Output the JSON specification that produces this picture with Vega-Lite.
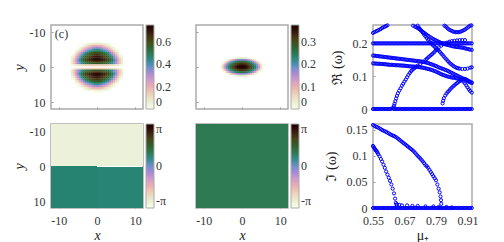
{"$schema":"https://vega.github.io/schema/vega-lite/v6.json","padding":{"left":11,"top":20,"right":0,"bottom":0},"background":"white",
"config":{"view":{"stroke":"#aaaaaa","strokeWidth":1.5},"font":"Liberation Serif",
"axis":{"grid":false,"labelFont":"Liberation Serif","titleFont":"Liberation Serif","labelFontSize":12,"titleFontSize":14,"labelColor":"#333333","titleColor":"#222222","domain":false,"tickColor":"#999999","tickSize":-2,"labelPadding":8,"titleFontWeight":"normal","labelFlush":false,"labelOverlap":false},
"axisX":{"labelPadding":9,"titlePadding":2},
"legend":{"labelFont":"Liberation Serif","labelFontSize":12,"labelColor":"#333333","gradientLength":84,"gradientThickness":8,"offset":3,"padding":0,"labelOffset":3,"gradientStrokeColor":"#aaaaaa","gradientStrokeWidth":1,"labelOverlap":false}},
"datasets":{
"a":[
{"x":-1.5,"y":-7,"v":0.005},{"x":-1,"y":-7,"v":0.01},{"x":-0.5,"y":-7,"v":0.015},{"x":0,"y":-7,"v":0.02},{"x":0.5,"y":-7,"v":0.015},{"x":1,"y":-7,"v":0.01},{"x":1.5,"y":-7,"v":0.005},
{"x":-3.5,"y":-6.5,"v":0.015},{"x":-3,"y":-6.5,"v":0.03},{"x":-2.5,"y":-6.5,"v":0.05},{"x":-2,"y":-6.5,"v":0.07},{"x":-1.5,"y":-6.5,"v":0.085},{"x":-1,"y":-6.5,"v":0.1},{"x":-0.5,"y":-6.5,"v":0.11},{"x":0,"y":-6.5,"v":0.115},{"x":0.5,"y":-6.5,"v":0.11},{"x":1,"y":-6.5,"v":0.1},{"x":1.5,"y":-6.5,"v":0.085},{"x":2,"y":-6.5,"v":0.07},{"x":2.5,"y":-6.5,"v":0.05},{"x":3,"y":-6.5,"v":0.03},{"x":3.5,"y":-6.5,"v":0.015},
{"x":-3.5,"y":-6,"v":0.03},{"x":-3,"y":-6,"v":0.06},{"x":-2.5,"y":-6,"v":0.1},{"x":-2,"y":-6,"v":0.14},{"x":-1.5,"y":-6,"v":0.17},{"x":-1,"y":-6,"v":0.195},{"x":-0.5,"y":-6,"v":0.2},{"x":0,"y":-6,"v":0.21},{"x":0.5,"y":-6,"v":0.2},{"x":1,"y":-6,"v":0.195},{"x":1.5,"y":-6,"v":0.17},{"x":2,"y":-6,"v":0.14},{"x":2.5,"y":-6,"v":0.1},{"x":3,"y":-6,"v":0.06},{"x":3.5,"y":-6,"v":0.03},
{"x":-5,"y":-5.5,"v":0.005},{"x":-4.5,"y":-5.5,"v":0.03},{"x":-4,"y":-5.5,"v":0.06},{"x":-3.5,"y":-5.5,"v":0.11},{"x":-3,"y":-5.5,"v":0.155},{"x":-2.5,"y":-5.5,"v":0.2},{"x":-2,"y":-5.5,"v":0.24},{"x":-1.5,"y":-5.5,"v":0.27},{"x":-1,"y":-5.5,"v":0.3},{"x":-0.5,"y":-5.5,"v":0.31},{"x":0,"y":-5.5,"v":0.325},{"x":0.5,"y":-5.5,"v":0.31},{"x":1,"y":-5.5,"v":0.3},{"x":1.5,"y":-5.5,"v":0.27},{"x":2,"y":-5.5,"v":0.24},{"x":2.5,"y":-5.5,"v":0.2},{"x":3,"y":-5.5,"v":0.155},{"x":3.5,"y":-5.5,"v":0.11},{"x":4,"y":-5.5,"v":0.06},{"x":4.5,"y":-5.5,"v":0.03},{"x":5,"y":-5.5,"v":0.005},
{"x":-5.5,"y":-5,"v":0.005},{"x":-5,"y":-5,"v":0.01},{"x":-4.5,"y":-5,"v":0.065},{"x":-4,"y":-5,"v":0.12},{"x":-3.5,"y":-5,"v":0.185},{"x":-3,"y":-5,"v":0.25},{"x":-2.5,"y":-5,"v":0.295},{"x":-2,"y":-5,"v":0.34},{"x":-1.5,"y":-5,"v":0.375},{"x":-1,"y":-5,"v":0.41},{"x":-0.5,"y":-5,"v":0.425},{"x":0,"y":-5,"v":0.44},{"x":0.5,"y":-5,"v":0.425},{"x":1,"y":-5,"v":0.41},{"x":1.5,"y":-5,"v":0.375},{"x":2,"y":-5,"v":0.34},{"x":2.5,"y":-5,"v":0.295},{"x":3,"y":-5,"v":0.25},{"x":3.5,"y":-5,"v":0.185},{"x":4,"y":-5,"v":0.12},{"x":4.5,"y":-5,"v":0.065},{"x":5,"y":-5,"v":0.01},{"x":5.5,"y":-5,"v":0.005},
{"x":-5.5,"y":-4.5,"v":0.03},{"x":-5,"y":-4.5,"v":0.065},{"x":-4.5,"y":-4.5,"v":0.13},{"x":-4,"y":-4.5,"v":0.2},{"x":-3.5,"y":-4.5,"v":0.27},{"x":-3,"y":-4.5,"v":0.345},{"x":-2.5,"y":-4.5,"v":0.385},{"x":-2,"y":-4.5,"v":0.425},{"x":-1.5,"y":-4.5,"v":0.46},{"x":-1,"y":-4.5,"v":0.49},{"x":-0.5,"y":-4.5,"v":0.5},{"x":0,"y":-4.5,"v":0.51},{"x":0.5,"y":-4.5,"v":0.5},{"x":1,"y":-4.5,"v":0.49},{"x":1.5,"y":-4.5,"v":0.46},{"x":2,"y":-4.5,"v":0.425},{"x":2.5,"y":-4.5,"v":0.385},{"x":3,"y":-4.5,"v":0.345},{"x":3.5,"y":-4.5,"v":0.27},{"x":4,"y":-4.5,"v":0.2},{"x":4.5,"y":-4.5,"v":0.13},{"x":5,"y":-4.5,"v":0.065},{"x":5.5,"y":-4.5,"v":0.03},
{"x":-5.5,"y":-4,"v":0.06},{"x":-5,"y":-4,"v":0.12},{"x":-4.5,"y":-4,"v":0.2},{"x":-4,"y":-4,"v":0.28},{"x":-3.5,"y":-4,"v":0.36},{"x":-3,"y":-4,"v":0.44},{"x":-2.5,"y":-4,"v":0.475},{"x":-2,"y":-4,"v":0.51},{"x":-1.5,"y":-4,"v":0.54},{"x":-1,"y":-4,"v":0.57},{"x":-0.5,"y":-4,"v":0.58},{"x":0,"y":-4,"v":0.585},{"x":0.5,"y":-4,"v":0.58},{"x":1,"y":-4,"v":0.57},{"x":1.5,"y":-4,"v":0.54},{"x":2,"y":-4,"v":0.51},{"x":2.5,"y":-4,"v":0.475},{"x":3,"y":-4,"v":0.44},{"x":3.5,"y":-4,"v":0.36},{"x":4,"y":-4,"v":0.28},{"x":4.5,"y":-4,"v":0.2},{"x":5,"y":-4,"v":0.12},{"x":5.5,"y":-4,"v":0.06},
{"x":-6.5,"y":-3.5,"v":0.015},{"x":-6,"y":-3.5,"v":0.03},{"x":-5.5,"y":-3.5,"v":0.11},{"x":-5,"y":-3.5,"v":0.185},{"x":-4.5,"y":-3.5,"v":0.27},{"x":-4,"y":-3.5,"v":0.36},{"x":-3.5,"y":-3.5,"v":0.43},{"x":-3,"y":-3.5,"v":0.495},{"x":-2.5,"y":-3.5,"v":0.53},{"x":-2,"y":-3.5,"v":0.565},{"x":-1.5,"y":-3.5,"v":0.59},{"x":-1,"y":-3.5,"v":0.62},{"x":-0.5,"y":-3.5,"v":0.63},{"x":0,"y":-3.5,"v":0.64},{"x":0.5,"y":-3.5,"v":0.63},{"x":1,"y":-3.5,"v":0.62},{"x":1.5,"y":-3.5,"v":0.59},{"x":2,"y":-3.5,"v":0.565},{"x":2.5,"y":-3.5,"v":0.53},{"x":3,"y":-3.5,"v":0.495},{"x":3.5,"y":-3.5,"v":0.43},{"x":4,"y":-3.5,"v":0.36},{"x":4.5,"y":-3.5,"v":0.27},{"x":5,"y":-3.5,"v":0.185},{"x":5.5,"y":-3.5,"v":0.11},{"x":6,"y":-3.5,"v":0.03},{"x":6.5,"y":-3.5,"v":0.015},
{"x":-6.5,"y":-3,"v":0.03},{"x":-6,"y":-3,"v":0.06},{"x":-5.5,"y":-3,"v":0.155},{"x":-5,"y":-3,"v":0.25},{"x":-4.5,"y":-3,"v":0.345},{"x":-4,"y":-3,"v":0.44},{"x":-3.5,"y":-3,"v":0.495},{"x":-3,"y":-3,"v":0.55},{"x":-2.5,"y":-3,"v":0.585},{"x":-2,"y":-3,"v":0.62},{"x":-1.5,"y":-3,"v":0.645},{"x":-1,"y":-3,"v":0.67},{"x":-0.5,"y":-3,"v":0.68},{"x":0,"y":-3,"v":0.69},{"x":0.5,"y":-3,"v":0.68},{"x":1,"y":-3,"v":0.67},{"x":1.5,"y":-3,"v":0.645},{"x":2,"y":-3,"v":0.62},{"x":2.5,"y":-3,"v":0.585},{"x":3,"y":-3,"v":0.55},{"x":3.5,"y":-3,"v":0.495},{"x":4,"y":-3,"v":0.44},{"x":4.5,"y":-3,"v":0.345},{"x":5,"y":-3,"v":0.25},{"x":5.5,"y":-3,"v":0.155},{"x":6,"y":-3,"v":0.06},{"x":6.5,"y":-3,"v":0.03},
{"x":-6.5,"y":-2.5,"v":0.05},{"x":-6,"y":-2.5,"v":0.1},{"x":-5.5,"y":-2.5,"v":0.195},{"x":-5,"y":-2.5,"v":0.29},{"x":-4.5,"y":-2.5,"v":0.38},{"x":-4,"y":-2.5,"v":0.47},{"x":-3.5,"y":-2.5,"v":0.525},{"x":-3,"y":-2.5,"v":0.58},{"x":-2.5,"y":-2.5,"v":0.61},{"x":-2,"y":-2.5,"v":0.645},{"x":-1.5,"y":-2.5,"v":0.665},{"x":-1,"y":-2.5,"v":0.685},{"x":-0.5,"y":-2.5,"v":0.695},{"x":0,"y":-2.5,"v":0.705},{"x":0.5,"y":-2.5,"v":0.695},{"x":1,"y":-2.5,"v":0.685},{"x":1.5,"y":-2.5,"v":0.665},{"x":2,"y":-2.5,"v":0.645},{"x":2.5,"y":-2.5,"v":0.61},{"x":3,"y":-2.5,"v":0.58},{"x":3.5,"y":-2.5,"v":0.525},{"x":4,"y":-2.5,"v":0.47},{"x":4.5,"y":-2.5,"v":0.38},{"x":5,"y":-2.5,"v":0.29},{"x":5.5,"y":-2.5,"v":0.195},{"x":6,"y":-2.5,"v":0.1},{"x":6.5,"y":-2.5,"v":0.05},
{"x":-6.5,"y":-2,"v":0.07},{"x":-6,"y":-2,"v":0.14},{"x":-5.5,"y":-2,"v":0.235},{"x":-5,"y":-2,"v":0.33},{"x":-4.5,"y":-2,"v":0.415},{"x":-4,"y":-2,"v":0.5},{"x":-3.5,"y":-2,"v":0.555},{"x":-3,"y":-2,"v":0.61},{"x":-2.5,"y":-2,"v":0.64},{"x":-2,"y":-2,"v":0.67},{"x":-1.5,"y":-2,"v":0.685},{"x":-1,"y":-2,"v":0.7},{"x":-0.5,"y":-2,"v":0.71},{"x":0,"y":-2,"v":0.72},{"x":0.5,"y":-2,"v":0.71},{"x":1,"y":-2,"v":0.7},{"x":1.5,"y":-2,"v":0.685},{"x":2,"y":-2,"v":0.67},{"x":2.5,"y":-2,"v":0.64},{"x":3,"y":-2,"v":0.61},{"x":3.5,"y":-2,"v":0.555},{"x":4,"y":-2,"v":0.5},{"x":4.5,"y":-2,"v":0.415},{"x":5,"y":-2,"v":0.33},{"x":5.5,"y":-2,"v":0.235},{"x":6,"y":-2,"v":0.14},{"x":6.5,"y":-2,"v":0.07},
{"x":-7,"y":-1.5,"v":0.005},{"x":-6.5,"y":-1.5,"v":0.075},{"x":-6,"y":-1.5,"v":0.145},{"x":-5.5,"y":-1.5,"v":0.23},{"x":-5,"y":-1.5,"v":0.32},{"x":-4.5,"y":-1.5,"v":0.39},{"x":-4,"y":-1.5,"v":0.465},{"x":-3.5,"y":-1.5,"v":0.51},{"x":-3,"y":-1.5,"v":0.56},{"x":-2.5,"y":-1.5,"v":0.58},{"x":-2,"y":-1.5,"v":0.605},{"x":-1.5,"y":-1.5,"v":0.62},{"x":-1,"y":-1.5,"v":0.635},{"x":-0.5,"y":-1.5,"v":0.64},{"x":0,"y":-1.5,"v":0.645},{"x":0.5,"y":-1.5,"v":0.64},{"x":1,"y":-1.5,"v":0.635},{"x":1.5,"y":-1.5,"v":0.62},{"x":2,"y":-1.5,"v":0.605},{"x":2.5,"y":-1.5,"v":0.58},{"x":3,"y":-1.5,"v":0.56},{"x":3.5,"y":-1.5,"v":0.51},{"x":4,"y":-1.5,"v":0.465},{"x":4.5,"y":-1.5,"v":0.39},{"x":5,"y":-1.5,"v":0.32},{"x":5.5,"y":-1.5,"v":0.23},{"x":6,"y":-1.5,"v":0.145},{"x":6.5,"y":-1.5,"v":0.075},{"x":7,"y":-1.5,"v":0.005},
{"x":-7,"y":-1,"v":0.01},{"x":-6.5,"y":-1,"v":0.08},{"x":-6,"y":-1,"v":0.15},{"x":-5.5,"y":-1,"v":0.23},{"x":-5,"y":-1,"v":0.31},{"x":-4.5,"y":-1,"v":0.37},{"x":-4,"y":-1,"v":0.43},{"x":-3.5,"y":-1,"v":0.47},{"x":-3,"y":-1,"v":0.51},{"x":-2.5,"y":-1,"v":0.525},{"x":-2,"y":-1,"v":0.54},{"x":-1.5,"y":-1,"v":0.555},{"x":-1,"y":-1,"v":0.57},{"x":-0.5,"y":-1,"v":0.57},{"x":0,"y":-1,"v":0.57},{"x":0.5,"y":-1,"v":0.57},{"x":1,"y":-1,"v":0.57},{"x":1.5,"y":-1,"v":0.555},{"x":2,"y":-1,"v":0.54},{"x":2.5,"y":-1,"v":0.525},{"x":3,"y":-1,"v":0.51},{"x":3.5,"y":-1,"v":0.47},{"x":4,"y":-1,"v":0.43},{"x":4.5,"y":-1,"v":0.37},{"x":5,"y":-1,"v":0.31},{"x":5.5,"y":-1,"v":0.23},{"x":6,"y":-1,"v":0.15},{"x":6.5,"y":-1,"v":0.08},{"x":7,"y":-1,"v":0.01},
{"x":-6.5,"y":-0.5,"v":0.02},{"x":-6,"y":-0.5,"v":0.04},{"x":-5.5,"y":-0.5,"v":0.06},{"x":-5,"y":-0.5,"v":0.08},{"x":-4.5,"y":-0.5,"v":0.095},{"x":-4,"y":-0.5,"v":0.11},{"x":-3.5,"y":-0.5,"v":0.12},{"x":-3,"y":-0.5,"v":0.13},{"x":-2.5,"y":-0.5,"v":0.13},{"x":-2,"y":-0.5,"v":0.135},{"x":-1.5,"y":-0.5,"v":0.14},{"x":-1,"y":-0.5,"v":0.14},{"x":-0.5,"y":-0.5,"v":0.14},{"x":0,"y":-0.5,"v":0.14},{"x":0.5,"y":-0.5,"v":0.14},{"x":1,"y":-0.5,"v":0.14},{"x":1.5,"y":-0.5,"v":0.14},{"x":2,"y":-0.5,"v":0.135},{"x":2.5,"y":-0.5,"v":0.13},{"x":3,"y":-0.5,"v":0.13},{"x":3.5,"y":-0.5,"v":0.12},{"x":4,"y":-0.5,"v":0.11},{"x":4.5,"y":-0.5,"v":0.095},{"x":5,"y":-0.5,"v":0.08},{"x":5.5,"y":-0.5,"v":0.06},{"x":6,"y":-0.5,"v":0.04},{"x":6.5,"y":-0.5,"v":0.02},
{"x":-6.5,"y":0.5,"v":0.02},{"x":-6,"y":0.5,"v":0.04},{"x":-5.5,"y":0.5,"v":0.06},{"x":-5,"y":0.5,"v":0.08},{"x":-4.5,"y":0.5,"v":0.095},{"x":-4,"y":0.5,"v":0.11},{"x":-3.5,"y":0.5,"v":0.12},{"x":-3,"y":0.5,"v":0.13},{"x":-2.5,"y":0.5,"v":0.13},{"x":-2,"y":0.5,"v":0.135},{"x":-1.5,"y":0.5,"v":0.14},{"x":-1,"y":0.5,"v":0.14},{"x":-0.5,"y":0.5,"v":0.14},{"x":0,"y":0.5,"v":0.14},{"x":0.5,"y":0.5,"v":0.14},{"x":1,"y":0.5,"v":0.14},{"x":1.5,"y":0.5,"v":0.14},{"x":2,"y":0.5,"v":0.135},{"x":2.5,"y":0.5,"v":0.13},{"x":3,"y":0.5,"v":0.13},{"x":3.5,"y":0.5,"v":0.12},{"x":4,"y":0.5,"v":0.11},{"x":4.5,"y":0.5,"v":0.095},{"x":5,"y":0.5,"v":0.08},{"x":5.5,"y":0.5,"v":0.06},{"x":6,"y":0.5,"v":0.04},{"x":6.5,"y":0.5,"v":0.02},
{"x":-7,"y":1,"v":0.01},{"x":-6.5,"y":1,"v":0.08},{"x":-6,"y":1,"v":0.15},{"x":-5.5,"y":1,"v":0.23},{"x":-5,"y":1,"v":0.31},{"x":-4.5,"y":1,"v":0.37},{"x":-4,"y":1,"v":0.43},{"x":-3.5,"y":1,"v":0.47},{"x":-3,"y":1,"v":0.51},{"x":-2.5,"y":1,"v":0.525},{"x":-2,"y":1,"v":0.54},{"x":-1.5,"y":1,"v":0.555},{"x":-1,"y":1,"v":0.57},{"x":-0.5,"y":1,"v":0.57},{"x":0,"y":1,"v":0.57},{"x":0.5,"y":1,"v":0.57},{"x":1,"y":1,"v":0.57},{"x":1.5,"y":1,"v":0.555},{"x":2,"y":1,"v":0.54},{"x":2.5,"y":1,"v":0.525},{"x":3,"y":1,"v":0.51},{"x":3.5,"y":1,"v":0.47},{"x":4,"y":1,"v":0.43},{"x":4.5,"y":1,"v":0.37},{"x":5,"y":1,"v":0.31},{"x":5.5,"y":1,"v":0.23},{"x":6,"y":1,"v":0.15},{"x":6.5,"y":1,"v":0.08},{"x":7,"y":1,"v":0.01},
{"x":-7,"y":1.5,"v":0.005},{"x":-6.5,"y":1.5,"v":0.075},{"x":-6,"y":1.5,"v":0.145},{"x":-5.5,"y":1.5,"v":0.23},{"x":-5,"y":1.5,"v":0.32},{"x":-4.5,"y":1.5,"v":0.39},{"x":-4,"y":1.5,"v":0.465},{"x":-3.5,"y":1.5,"v":0.51},{"x":-3,"y":1.5,"v":0.56},{"x":-2.5,"y":1.5,"v":0.58},{"x":-2,"y":1.5,"v":0.605},{"x":-1.5,"y":1.5,"v":0.62},{"x":-1,"y":1.5,"v":0.635},{"x":-0.5,"y":1.5,"v":0.64},{"x":0,"y":1.5,"v":0.645},{"x":0.5,"y":1.5,"v":0.64},{"x":1,"y":1.5,"v":0.635},{"x":1.5,"y":1.5,"v":0.62},{"x":2,"y":1.5,"v":0.605},{"x":2.5,"y":1.5,"v":0.58},{"x":3,"y":1.5,"v":0.56},{"x":3.5,"y":1.5,"v":0.51},{"x":4,"y":1.5,"v":0.465},{"x":4.5,"y":1.5,"v":0.39},{"x":5,"y":1.5,"v":0.32},{"x":5.5,"y":1.5,"v":0.23},{"x":6,"y":1.5,"v":0.145},{"x":6.5,"y":1.5,"v":0.075},{"x":7,"y":1.5,"v":0.005},
{"x":-6.5,"y":2,"v":0.07},{"x":-6,"y":2,"v":0.14},{"x":-5.5,"y":2,"v":0.235},{"x":-5,"y":2,"v":0.33},{"x":-4.5,"y":2,"v":0.415},{"x":-4,"y":2,"v":0.5},{"x":-3.5,"y":2,"v":0.555},{"x":-3,"y":2,"v":0.61},{"x":-2.5,"y":2,"v":0.64},{"x":-2,"y":2,"v":0.67},{"x":-1.5,"y":2,"v":0.685},{"x":-1,"y":2,"v":0.7},{"x":-0.5,"y":2,"v":0.71},{"x":0,"y":2,"v":0.72},{"x":0.5,"y":2,"v":0.71},{"x":1,"y":2,"v":0.7},{"x":1.5,"y":2,"v":0.685},{"x":2,"y":2,"v":0.67},{"x":2.5,"y":2,"v":0.64},{"x":3,"y":2,"v":0.61},{"x":3.5,"y":2,"v":0.555},{"x":4,"y":2,"v":0.5},{"x":4.5,"y":2,"v":0.415},{"x":5,"y":2,"v":0.33},{"x":5.5,"y":2,"v":0.235},{"x":6,"y":2,"v":0.14},{"x":6.5,"y":2,"v":0.07},
{"x":-6.5,"y":2.5,"v":0.05},{"x":-6,"y":2.5,"v":0.1},{"x":-5.5,"y":2.5,"v":0.195},{"x":-5,"y":2.5,"v":0.29},{"x":-4.5,"y":2.5,"v":0.38},{"x":-4,"y":2.5,"v":0.47},{"x":-3.5,"y":2.5,"v":0.525},{"x":-3,"y":2.5,"v":0.58},{"x":-2.5,"y":2.5,"v":0.61},{"x":-2,"y":2.5,"v":0.645},{"x":-1.5,"y":2.5,"v":0.665},{"x":-1,"y":2.5,"v":0.685},{"x":-0.5,"y":2.5,"v":0.695},{"x":0,"y":2.5,"v":0.705},{"x":0.5,"y":2.5,"v":0.695},{"x":1,"y":2.5,"v":0.685},{"x":1.5,"y":2.5,"v":0.665},{"x":2,"y":2.5,"v":0.645},{"x":2.5,"y":2.5,"v":0.61},{"x":3,"y":2.5,"v":0.58},{"x":3.5,"y":2.5,"v":0.525},{"x":4,"y":2.5,"v":0.47},{"x":4.5,"y":2.5,"v":0.38},{"x":5,"y":2.5,"v":0.29},{"x":5.5,"y":2.5,"v":0.195},{"x":6,"y":2.5,"v":0.1},{"x":6.5,"y":2.5,"v":0.05},
{"x":-6.5,"y":3,"v":0.03},{"x":-6,"y":3,"v":0.06},{"x":-5.5,"y":3,"v":0.155},{"x":-5,"y":3,"v":0.25},{"x":-4.5,"y":3,"v":0.345},{"x":-4,"y":3,"v":0.44},{"x":-3.5,"y":3,"v":0.495},{"x":-3,"y":3,"v":0.55},{"x":-2.5,"y":3,"v":0.585},{"x":-2,"y":3,"v":0.62},{"x":-1.5,"y":3,"v":0.645},{"x":-1,"y":3,"v":0.67},{"x":-0.5,"y":3,"v":0.68},{"x":0,"y":3,"v":0.69},{"x":0.5,"y":3,"v":0.68},{"x":1,"y":3,"v":0.67},{"x":1.5,"y":3,"v":0.645},{"x":2,"y":3,"v":0.62},{"x":2.5,"y":3,"v":0.585},{"x":3,"y":3,"v":0.55},{"x":3.5,"y":3,"v":0.495},{"x":4,"y":3,"v":0.44},{"x":4.5,"y":3,"v":0.345},{"x":5,"y":3,"v":0.25},{"x":5.5,"y":3,"v":0.155},{"x":6,"y":3,"v":0.06},{"x":6.5,"y":3,"v":0.03},
{"x":-6.5,"y":3.5,"v":0.015},{"x":-6,"y":3.5,"v":0.03},{"x":-5.5,"y":3.5,"v":0.11},{"x":-5,"y":3.5,"v":0.185},{"x":-4.5,"y":3.5,"v":0.27},{"x":-4,"y":3.5,"v":0.36},{"x":-3.5,"y":3.5,"v":0.43},{"x":-3,"y":3.5,"v":0.495},{"x":-2.5,"y":3.5,"v":0.53},{"x":-2,"y":3.5,"v":0.565},{"x":-1.5,"y":3.5,"v":0.59},{"x":-1,"y":3.5,"v":0.62},{"x":-0.5,"y":3.5,"v":0.63},{"x":0,"y":3.5,"v":0.64},{"x":0.5,"y":3.5,"v":0.63},{"x":1,"y":3.5,"v":0.62},{"x":1.5,"y":3.5,"v":0.59},{"x":2,"y":3.5,"v":0.565},{"x":2.5,"y":3.5,"v":0.53},{"x":3,"y":3.5,"v":0.495},{"x":3.5,"y":3.5,"v":0.43},{"x":4,"y":3.5,"v":0.36},{"x":4.5,"y":3.5,"v":0.27},{"x":5,"y":3.5,"v":0.185},{"x":5.5,"y":3.5,"v":0.11},{"x":6,"y":3.5,"v":0.03},{"x":6.5,"y":3.5,"v":0.015},
{"x":-5.5,"y":4,"v":0.06},{"x":-5,"y":4,"v":0.12},{"x":-4.5,"y":4,"v":0.2},{"x":-4,"y":4,"v":0.28},{"x":-3.5,"y":4,"v":0.36},{"x":-3,"y":4,"v":0.44},{"x":-2.5,"y":4,"v":0.475},{"x":-2,"y":4,"v":0.51},{"x":-1.5,"y":4,"v":0.54},{"x":-1,"y":4,"v":0.57},{"x":-0.5,"y":4,"v":0.58},{"x":0,"y":4,"v":0.585},{"x":0.5,"y":4,"v":0.58},{"x":1,"y":4,"v":0.57},{"x":1.5,"y":4,"v":0.54},{"x":2,"y":4,"v":0.51},{"x":2.5,"y":4,"v":0.475},{"x":3,"y":4,"v":0.44},{"x":3.5,"y":4,"v":0.36},{"x":4,"y":4,"v":0.28},{"x":4.5,"y":4,"v":0.2},{"x":5,"y":4,"v":0.12},{"x":5.5,"y":4,"v":0.06},
{"x":-5.5,"y":4.5,"v":0.03},{"x":-5,"y":4.5,"v":0.065},{"x":-4.5,"y":4.5,"v":0.13},{"x":-4,"y":4.5,"v":0.2},{"x":-3.5,"y":4.5,"v":0.27},{"x":-3,"y":4.5,"v":0.345},{"x":-2.5,"y":4.5,"v":0.385},{"x":-2,"y":4.5,"v":0.425},{"x":-1.5,"y":4.5,"v":0.46},{"x":-1,"y":4.5,"v":0.49},{"x":-0.5,"y":4.5,"v":0.5},{"x":0,"y":4.5,"v":0.51},{"x":0.5,"y":4.5,"v":0.5},{"x":1,"y":4.5,"v":0.49},{"x":1.5,"y":4.5,"v":0.46},{"x":2,"y":4.5,"v":0.425},{"x":2.5,"y":4.5,"v":0.385},{"x":3,"y":4.5,"v":0.345},{"x":3.5,"y":4.5,"v":0.27},{"x":4,"y":4.5,"v":0.2},{"x":4.5,"y":4.5,"v":0.13},{"x":5,"y":4.5,"v":0.065},{"x":5.5,"y":4.5,"v":0.03},
{"x":-5.5,"y":5,"v":0.005},{"x":-5,"y":5,"v":0.01},{"x":-4.5,"y":5,"v":0.065},{"x":-4,"y":5,"v":0.12},{"x":-3.5,"y":5,"v":0.185},{"x":-3,"y":5,"v":0.25},{"x":-2.5,"y":5,"v":0.295},{"x":-2,"y":5,"v":0.34},{"x":-1.5,"y":5,"v":0.375},{"x":-1,"y":5,"v":0.41},{"x":-0.5,"y":5,"v":0.425},{"x":0,"y":5,"v":0.44},{"x":0.5,"y":5,"v":0.425},{"x":1,"y":5,"v":0.41},{"x":1.5,"y":5,"v":0.375},{"x":2,"y":5,"v":0.34},{"x":2.5,"y":5,"v":0.295},{"x":3,"y":5,"v":0.25},{"x":3.5,"y":5,"v":0.185},{"x":4,"y":5,"v":0.12},{"x":4.5,"y":5,"v":0.065},{"x":5,"y":5,"v":0.01},{"x":5.5,"y":5,"v":0.005},
{"x":-5,"y":5.5,"v":0.005},{"x":-4.5,"y":5.5,"v":0.03},{"x":-4,"y":5.5,"v":0.06},{"x":-3.5,"y":5.5,"v":0.11},{"x":-3,"y":5.5,"v":0.155},{"x":-2.5,"y":5.5,"v":0.2},{"x":-2,"y":5.5,"v":0.24},{"x":-1.5,"y":5.5,"v":0.27},{"x":-1,"y":5.5,"v":0.3},{"x":-0.5,"y":5.5,"v":0.31},{"x":0,"y":5.5,"v":0.325},{"x":0.5,"y":5.5,"v":0.31},{"x":1,"y":5.5,"v":0.3},{"x":1.5,"y":5.5,"v":0.27},{"x":2,"y":5.5,"v":0.24},{"x":2.5,"y":5.5,"v":0.2},{"x":3,"y":5.5,"v":0.155},{"x":3.5,"y":5.5,"v":0.11},{"x":4,"y":5.5,"v":0.06},{"x":4.5,"y":5.5,"v":0.03},{"x":5,"y":5.5,"v":0.005},
{"x":-3.5,"y":6,"v":0.03},{"x":-3,"y":6,"v":0.06},{"x":-2.5,"y":6,"v":0.1},{"x":-2,"y":6,"v":0.14},{"x":-1.5,"y":6,"v":0.17},{"x":-1,"y":6,"v":0.195},{"x":-0.5,"y":6,"v":0.2},{"x":0,"y":6,"v":0.21},{"x":0.5,"y":6,"v":0.2},{"x":1,"y":6,"v":0.195},{"x":1.5,"y":6,"v":0.17},{"x":2,"y":6,"v":0.14},{"x":2.5,"y":6,"v":0.1},{"x":3,"y":6,"v":0.06},{"x":3.5,"y":6,"v":0.03},
{"x":-3.5,"y":6.5,"v":0.015},{"x":-3,"y":6.5,"v":0.03},{"x":-2.5,"y":6.5,"v":0.05},{"x":-2,"y":6.5,"v":0.07},{"x":-1.5,"y":6.5,"v":0.085},{"x":-1,"y":6.5,"v":0.1},{"x":-0.5,"y":6.5,"v":0.11},{"x":0,"y":6.5,"v":0.115},{"x":0.5,"y":6.5,"v":0.11},{"x":1,"y":6.5,"v":0.1},{"x":1.5,"y":6.5,"v":0.085},{"x":2,"y":6.5,"v":0.07},{"x":2.5,"y":6.5,"v":0.05},{"x":3,"y":6.5,"v":0.03},{"x":3.5,"y":6.5,"v":0.015},
{"x":-1.5,"y":7,"v":0.005},{"x":-1,"y":7,"v":0.01},{"x":-0.5,"y":7,"v":0.015},{"x":0,"y":7,"v":0.02},{"x":0.5,"y":7,"v":0.015},{"x":1,"y":7,"v":0.01},{"x":1.5,"y":7,"v":0.005}],
"b":[
{"x":-2,"y":-2.5,"v":0.01},{"x":-1.5,"y":-2.5,"v":0.02},{"x":-1,"y":-2.5,"v":0.03},{"x":-0.5,"y":-2.5,"v":0.04},{"x":0,"y":-2.5,"v":0.04},{"x":0.5,"y":-2.5,"v":0.04},{"x":1,"y":-2.5,"v":0.03},{"x":1.5,"y":-2.5,"v":0.02},{"x":2,"y":-2.5,"v":0.01},
{"x":-3.5,"y":-2,"v":0.02},{"x":-3,"y":-2,"v":0.05},{"x":-2.5,"y":-2,"v":0.088},{"x":-2,"y":-2,"v":0.125},{"x":-1.5,"y":-2,"v":0.15},{"x":-1,"y":-2,"v":0.167},{"x":-0.5,"y":-2,"v":0.178},{"x":0,"y":-2,"v":0.18},{"x":0.5,"y":-2,"v":0.178},{"x":1,"y":-2,"v":0.167},{"x":1.5,"y":-2,"v":0.15},{"x":2,"y":-2,"v":0.125},{"x":2.5,"y":-2,"v":0.088},{"x":3,"y":-2,"v":0.05},{"x":3.5,"y":-2,"v":0.02},
{"x":-4.5,"y":-1.5,"v":0.01},{"x":-4,"y":-1.5,"v":0.052},{"x":-3.5,"y":-1.5,"v":0.105},{"x":-3,"y":-1.5,"v":0.157},{"x":-2.5,"y":-1.5,"v":0.194},{"x":-2,"y":-1.5,"v":0.22},{"x":-1.5,"y":-1.5,"v":0.237},{"x":-1,"y":-1.5,"v":0.25},{"x":-0.5,"y":-1.5,"v":0.258},{"x":0,"y":-1.5,"v":0.261},{"x":0.5,"y":-1.5,"v":0.258},{"x":1,"y":-1.5,"v":0.25},{"x":1.5,"y":-1.5,"v":0.237},{"x":2,"y":-1.5,"v":0.22},{"x":2.5,"y":-1.5,"v":0.194},{"x":3,"y":-1.5,"v":0.157},{"x":3.5,"y":-1.5,"v":0.105},{"x":4,"y":-1.5,"v":0.052},{"x":4.5,"y":-1.5,"v":0.01},
{"x":-5,"y":-1,"v":0.012},{"x":-4.5,"y":-1,"v":0.065},{"x":-4,"y":-1,"v":0.13},{"x":-3.5,"y":-1,"v":0.183},{"x":-3,"y":-1,"v":0.22},{"x":-2.5,"y":-1,"v":0.25},{"x":-2,"y":-1,"v":0.275},{"x":-1.5,"y":-1,"v":0.295},{"x":-1,"y":-1,"v":0.311},{"x":-0.5,"y":-1,"v":0.32},{"x":0,"y":-1,"v":0.322},{"x":0.5,"y":-1,"v":0.32},{"x":1,"y":-1,"v":0.311},{"x":1.5,"y":-1,"v":0.295},{"x":2,"y":-1,"v":0.275},{"x":2.5,"y":-1,"v":0.25},{"x":3,"y":-1,"v":0.22},{"x":3.5,"y":-1,"v":0.183},{"x":4,"y":-1,"v":0.13},{"x":4.5,"y":-1,"v":0.065},{"x":5,"y":-1,"v":0.012},
{"x":-5,"y":-0.5,"v":0.045},{"x":-4.5,"y":-0.5,"v":0.115},{"x":-4,"y":-0.5,"v":0.175},{"x":-3.5,"y":-0.5,"v":0.22},{"x":-3,"y":-0.5,"v":0.253},{"x":-2.5,"y":-0.5,"v":0.284},{"x":-2,"y":-0.5,"v":0.313},{"x":-1.5,"y":-0.5,"v":0.331},{"x":-1,"y":-0.5,"v":0.345},{"x":-0.5,"y":-0.5,"v":0.354},{"x":0,"y":-0.5,"v":0.357},{"x":0.5,"y":-0.5,"v":0.354},{"x":1,"y":-0.5,"v":0.345},{"x":1.5,"y":-0.5,"v":0.331},{"x":2,"y":-0.5,"v":0.313},{"x":2.5,"y":-0.5,"v":0.284},{"x":3,"y":-0.5,"v":0.253},{"x":3.5,"y":-0.5,"v":0.22},{"x":4,"y":-0.5,"v":0.175},{"x":4.5,"y":-0.5,"v":0.115},{"x":5,"y":-0.5,"v":0.045},
{"x":-5.5,"y":0,"v":0.007},{"x":-5,"y":0,"v":0.057},{"x":-4.5,"y":0,"v":0.13},{"x":-4,"y":0,"v":0.19},{"x":-3.5,"y":0,"v":0.23},{"x":-3,"y":0,"v":0.265},{"x":-2.5,"y":0,"v":0.297},{"x":-2,"y":0,"v":0.324},{"x":-1.5,"y":0,"v":0.343},{"x":-1,"y":0,"v":0.358},{"x":-0.5,"y":0,"v":0.366},{"x":0,"y":0,"v":0.37},{"x":0.5,"y":0,"v":0.366},{"x":1,"y":0,"v":0.358},{"x":1.5,"y":0,"v":0.343},{"x":2,"y":0,"v":0.324},{"x":2.5,"y":0,"v":0.297},{"x":3,"y":0,"v":0.265},{"x":3.5,"y":0,"v":0.23},{"x":4,"y":0,"v":0.19},{"x":4.5,"y":0,"v":0.13},{"x":5,"y":0,"v":0.057},{"x":5.5,"y":0,"v":0.007},
{"x":-5,"y":0.5,"v":0.045},{"x":-4.5,"y":0.5,"v":0.115},{"x":-4,"y":0.5,"v":0.175},{"x":-3.5,"y":0.5,"v":0.22},{"x":-3,"y":0.5,"v":0.253},{"x":-2.5,"y":0.5,"v":0.284},{"x":-2,"y":0.5,"v":0.313},{"x":-1.5,"y":0.5,"v":0.331},{"x":-1,"y":0.5,"v":0.345},{"x":-0.5,"y":0.5,"v":0.354},{"x":0,"y":0.5,"v":0.357},{"x":0.5,"y":0.5,"v":0.354},{"x":1,"y":0.5,"v":0.345},{"x":1.5,"y":0.5,"v":0.331},{"x":2,"y":0.5,"v":0.313},{"x":2.5,"y":0.5,"v":0.284},{"x":3,"y":0.5,"v":0.253},{"x":3.5,"y":0.5,"v":0.22},{"x":4,"y":0.5,"v":0.175},{"x":4.5,"y":0.5,"v":0.115},{"x":5,"y":0.5,"v":0.045},
{"x":-5,"y":1,"v":0.012},{"x":-4.5,"y":1,"v":0.065},{"x":-4,"y":1,"v":0.13},{"x":-3.5,"y":1,"v":0.183},{"x":-3,"y":1,"v":0.22},{"x":-2.5,"y":1,"v":0.25},{"x":-2,"y":1,"v":0.275},{"x":-1.5,"y":1,"v":0.295},{"x":-1,"y":1,"v":0.311},{"x":-0.5,"y":1,"v":0.32},{"x":0,"y":1,"v":0.322},{"x":0.5,"y":1,"v":0.32},{"x":1,"y":1,"v":0.311},{"x":1.5,"y":1,"v":0.295},{"x":2,"y":1,"v":0.275},{"x":2.5,"y":1,"v":0.25},{"x":3,"y":1,"v":0.22},{"x":3.5,"y":1,"v":0.183},{"x":4,"y":1,"v":0.13},{"x":4.5,"y":1,"v":0.065},{"x":5,"y":1,"v":0.012},
{"x":-4.5,"y":1.5,"v":0.01},{"x":-4,"y":1.5,"v":0.052},{"x":-3.5,"y":1.5,"v":0.105},{"x":-3,"y":1.5,"v":0.157},{"x":-2.5,"y":1.5,"v":0.194},{"x":-2,"y":1.5,"v":0.22},{"x":-1.5,"y":1.5,"v":0.237},{"x":-1,"y":1.5,"v":0.25},{"x":-0.5,"y":1.5,"v":0.258},{"x":0,"y":1.5,"v":0.261},{"x":0.5,"y":1.5,"v":0.258},{"x":1,"y":1.5,"v":0.25},{"x":1.5,"y":1.5,"v":0.237},{"x":2,"y":1.5,"v":0.22},{"x":2.5,"y":1.5,"v":0.194},{"x":3,"y":1.5,"v":0.157},{"x":3.5,"y":1.5,"v":0.105},{"x":4,"y":1.5,"v":0.052},{"x":4.5,"y":1.5,"v":0.01},
{"x":-3.5,"y":2,"v":0.02},{"x":-3,"y":2,"v":0.05},{"x":-2.5,"y":2,"v":0.088},{"x":-2,"y":2,"v":0.125},{"x":-1.5,"y":2,"v":0.15},{"x":-1,"y":2,"v":0.167},{"x":-0.5,"y":2,"v":0.178},{"x":0,"y":2,"v":0.18},{"x":0.5,"y":2,"v":0.178},{"x":1,"y":2,"v":0.167},{"x":1.5,"y":2,"v":0.15},{"x":2,"y":2,"v":0.125},{"x":2.5,"y":2,"v":0.088},{"x":3,"y":2,"v":0.05},{"x":3.5,"y":2,"v":0.02},
{"x":-2,"y":2.5,"v":0.01},{"x":-1.5,"y":2.5,"v":0.02},{"x":-1,"y":2.5,"v":0.03},{"x":-0.5,"y":2.5,"v":0.04},{"x":0,"y":2.5,"v":0.04},{"x":0.5,"y":2.5,"v":0.04},{"x":1,"y":2.5,"v":0.03},{"x":1.5,"y":2.5,"v":0.02},{"x":2,"y":2.5,"v":0.01}],
"c":[
{"m":0.55,"w":0},{"m":0.555,"w":0},{"m":0.56,"w":0},{"m":0.565,"w":0},{"m":0.57,"w":0},{"m":0.575,"w":0},{"m":0.58,"w":0},{"m":0.585,"w":0},{"m":0.59,"w":0},{"m":0.595,"w":0},{"m":0.6,"w":0},{"m":0.605,"w":0},{"m":0.61,"w":0},{"m":0.615,"w":0},{"m":0.62,"w":0.001},{"m":0.625,"w":0.002},{"m":0.63,"w":0},{"m":0.635,"w":0},{"m":0.64,"w":0},{"m":0.645,"w":0},{"m":0.65,"w":0},{"m":0.655,"w":0},{"m":0.66,"w":0},{"m":0.665,"w":0},{"m":0.67,"w":0},{"m":0.675,"w":0},{"m":0.68,"w":0},{"m":0.685,"w":0},{"m":0.69,"w":0},{"m":0.695,"w":0},{"m":0.7,"w":0},{"m":0.705,"w":0},{"m":0.71,"w":0},{"m":0.715,"w":0},{"m":0.72,"w":0},{"m":0.725,"w":0},{"m":0.73,"w":0},{"m":0.735,"w":0},{"m":0.74,"w":0},{"m":0.745,"w":0},{"m":0.75,"w":0},{"m":0.755,"w":0},{"m":0.76,"w":0},{"m":0.765,"w":0},{"m":0.77,"w":0},{"m":0.775,"w":0},{"m":0.78,"w":0},{"m":0.785,"w":0},{"m":0.79,"w":0},{"m":0.795,"w":0},{"m":0.8,"w":0},{"m":0.805,"w":0},{"m":0.81,"w":0},{"m":0.815,"w":0},{"m":0.82,"w":0},{"m":0.825,"w":0},{"m":0.83,"w":0},{"m":0.835,"w":0},{"m":0.84,"w":0},{"m":0.845,"w":0},{"m":0.85,"w":0},{"m":0.855,"w":0},{"m":0.86,"w":0},{"m":0.865,"w":0},{"m":0.87,"w":0},{"m":0.875,"w":0},{"m":0.88,"w":0},{"m":0.885,"w":0},{"m":0.89,"w":0},{"m":0.895,"w":0},{"m":0.9,"w":0},{"m":0.905,"w":0},{"m":0.91,"w":0},{"m":0.915,"w":0},{"m":0.92,"w":0},{"m":0.926,"w":0},
{"m":0.55,"w":0.2},{"m":0.555,"w":0.2},{"m":0.56,"w":0.2},{"m":0.565,"w":0.2},{"m":0.57,"w":0.2},{"m":0.575,"w":0.2},{"m":0.58,"w":0.2},{"m":0.585,"w":0.2},{"m":0.59,"w":0.2},{"m":0.595,"w":0.2},{"m":0.6,"w":0.2},{"m":0.605,"w":0.2},{"m":0.61,"w":0.2},{"m":0.615,"w":0.2},{"m":0.62,"w":0.2},{"m":0.625,"w":0.2},{"m":0.63,"w":0.2},{"m":0.635,"w":0.2},{"m":0.64,"w":0.2},{"m":0.645,"w":0.2},{"m":0.65,"w":0.2},{"m":0.655,"w":0.2},{"m":0.66,"w":0.2},{"m":0.665,"w":0.2},{"m":0.67,"w":0.2},{"m":0.675,"w":0.2},{"m":0.68,"w":0.2},{"m":0.685,"w":0.2},{"m":0.69,"w":0.2},{"m":0.695,"w":0.2},{"m":0.7,"w":0.2},{"m":0.705,"w":0.2},{"m":0.71,"w":0.2},{"m":0.715,"w":0.2},{"m":0.72,"w":0.2},{"m":0.725,"w":0.2},{"m":0.73,"w":0.2},{"m":0.735,"w":0.2},{"m":0.74,"w":0.2},{"m":0.745,"w":0.2},{"m":0.75,"w":0.2},{"m":0.755,"w":0.2},{"m":0.76,"w":0.2},{"m":0.765,"w":0.2},{"m":0.77,"w":0.2},{"m":0.775,"w":0.2},{"m":0.78,"w":0.2},{"m":0.785,"w":0.2},{"m":0.79,"w":0.2},{"m":0.795,"w":0.2},{"m":0.8,"w":0.2},{"m":0.805,"w":0.2},{"m":0.81,"w":0.2},{"m":0.815,"w":0.2},{"m":0.82,"w":0.2},{"m":0.825,"w":0.2},{"m":0.83,"w":0.2},{"m":0.835,"w":0.2},{"m":0.84,"w":0.2},{"m":0.845,"w":0.2},{"m":0.85,"w":0.2},{"m":0.855,"w":0.2},{"m":0.86,"w":0.2},{"m":0.865,"w":0.2},{"m":0.87,"w":0.2},{"m":0.875,"w":0.2},{"m":0.88,"w":0.2},{"m":0.885,"w":0.2},{"m":0.89,"w":0.2},{"m":0.895,"w":0.2},{"m":0.9,"w":0.2},{"m":0.905,"w":0.2},{"m":0.91,"w":0.2},{"m":0.915,"w":0.2},{"m":0.92,"w":0.2},{"m":0.926,"w":0.2},
{"m":0.55,"w":0.232},{"m":0.555,"w":0.234},{"m":0.56,"w":0.236},{"m":0.565,"w":0.238},{"m":0.57,"w":0.24},{"m":0.575,"w":0.242},{"m":0.58,"w":0.244},{"m":0.585,"w":0.247},{"m":0.59,"w":0.249},{"m":0.595,"w":0.251},{"m":0.6,"w":0.253},{"m":0.605,"w":0.255},
{"m":0.55,"w":0.163},{"m":0.555,"w":0.1625},{"m":0.56,"w":0.162},{"m":0.565,"w":0.1615},{"m":0.57,"w":0.161},{"m":0.575,"w":0.1605},{"m":0.58,"w":0.16},{"m":0.585,"w":0.1595},{"m":0.59,"w":0.159},{"m":0.595,"w":0.1585},{"m":0.6,"w":0.158},{"m":0.605,"w":0.1575},{"m":0.61,"w":0.157},{"m":0.615,"w":0.1565},{"m":0.62,"w":0.156},{"m":0.625,"w":0.1555},{"m":0.63,"w":0.155},{"m":0.635,"w":0.1545},{"m":0.64,"w":0.154},{"m":0.645,"w":0.1535},{"m":0.65,"w":0.153},{"m":0.655,"w":0.1525},{"m":0.66,"w":0.152},{"m":0.665,"w":0.1515},{"m":0.67,"w":0.151},{"m":0.675,"w":0.1505},{"m":0.68,"w":0.15},{"m":0.685,"w":0.1495},{"m":0.69,"w":0.149},{"m":0.695,"w":0.1485},{"m":0.7,"w":0.148},{"m":0.705,"w":0.1475},{"m":0.71,"w":0.147},{"m":0.715,"w":0.1465},{"m":0.72,"w":0.146},{"m":0.725,"w":0.1455},{"m":0.73,"w":0.145},{"m":0.735,"w":0.1445},{"m":0.74,"w":0.144},{"m":0.745,"w":0.143},{"m":0.75,"w":0.142},{"m":0.755,"w":0.141},{"m":0.76,"w":0.14},{"m":0.765,"w":0.1385},{"m":0.77,"w":0.137},{"m":0.775,"w":0.1355},{"m":0.78,"w":0.134},{"m":0.785,"w":0.1325},{"m":0.79,"w":0.131},{"m":0.795,"w":0.129},{"m":0.8,"w":0.127},{"m":0.805,"w":0.1255},{"m":0.81,"w":0.124},{"m":0.815,"w":0.1225},{"m":0.82,"w":0.121},{"m":0.825,"w":0.1195},{"m":0.83,"w":0.118},{"m":0.835,"w":0.116},{"m":0.84,"w":0.114},{"m":0.845,"w":0.112},{"m":0.85,"w":0.11},{"m":0.855,"w":0.108},{"m":0.86,"w":0.106},{"m":0.865,"w":0.104},{"m":0.87,"w":0.102},{"m":0.875,"w":0.1},{"m":0.88,"w":0.098},{"m":0.885,"w":0.096},{"m":0.89,"w":0.094},{"m":0.895,"w":0.092},{"m":0.9,"w":0.09},{"m":0.905,"w":0.0875},{"m":0.91,"w":0.085},{"m":0.915,"w":0.083},{"m":0.92,"w":0.081},{"m":0.926,"w":0.079},
{"m":0.55,"w":0.139},{"m":0.555,"w":0.1388},{"m":0.56,"w":0.1385},{"m":0.565,"w":0.1382},{"m":0.57,"w":0.138},{"m":0.575,"w":0.1377},{"m":0.58,"w":0.1375},{"m":0.585,"w":0.1372},{"m":0.59,"w":0.137},{"m":0.595,"w":0.1365},{"m":0.6,"w":0.136},{"m":0.605,"w":0.1355},{"m":0.61,"w":0.135},{"m":0.615,"w":0.1347},{"m":0.62,"w":0.1345},{"m":0.625,"w":0.1342},{"m":0.63,"w":0.134},{"m":0.635,"w":0.1337},{"m":0.64,"w":0.1335},{"m":0.645,"w":0.1332},{"m":0.65,"w":0.133},{"m":0.655,"w":0.1327},{"m":0.66,"w":0.1325},{"m":0.665,"w":0.1322},{"m":0.67,"w":0.132},{"m":0.675,"w":0.1315},{"m":0.68,"w":0.131},{"m":0.685,"w":0.1305},{"m":0.69,"w":0.13},{"m":0.695,"w":0.1297},{"m":0.7,"w":0.1295},{"m":0.705,"w":0.1292},{"m":0.71,"w":0.129},{"m":0.715,"w":0.1285},{"m":0.72,"w":0.128},{"m":0.725,"w":0.1275},{"m":0.73,"w":0.127},{"m":0.735,"w":0.1265},{"m":0.74,"w":0.126},{"m":0.745,"w":0.125},{"m":0.75,"w":0.124},{"m":0.755,"w":0.123},{"m":0.76,"w":0.122},{"m":0.765,"w":0.121},{"m":0.77,"w":0.12},{"m":0.775,"w":0.1185},{"m":0.78,"w":0.117},{"m":0.785,"w":0.1155},{"m":0.79,"w":0.114},{"m":0.795,"w":0.112},{"m":0.8,"w":0.11},{"m":0.805,"w":0.108},{"m":0.81,"w":0.106},{"m":0.815,"w":0.1045},{"m":0.82,"w":0.103},{"m":0.825,"w":0.1015},{"m":0.83,"w":0.1},{"m":0.835,"w":0.099},{"m":0.84,"w":0.098},{"m":0.845,"w":0.097},{"m":0.85,"w":0.096},{"m":0.855,"w":0.0955},{"m":0.86,"w":0.095},{"m":0.865,"w":0.094},{"m":0.87,"w":0.093},{"m":0.875,"w":0.092},{"m":0.88,"w":0.091},{"m":0.885,"w":0.09},{"m":0.89,"w":0.088},{"m":0.895,"w":0.083},{"m":0.9,"w":0.078},{"m":0.905,"w":0.072},{"m":0.91,"w":0.066},{"m":0.915,"w":0.06},{"m":0.92,"w":0.055},{"m":0.926,"w":0.05},
{"m":0.6275,"w":0.004},{"m":0.63,"w":0.01},{"m":0.632,"w":0.016},{"m":0.635,"w":0.024},{"m":0.638,"w":0.032},{"m":0.641,"w":0.04},{"m":0.645,"w":0.048},{"m":0.65,"w":0.056},{"m":0.655,"w":0.063},{"m":0.66,"w":0.071},{"m":0.665,"w":0.077},{"m":0.67,"w":0.084},{"m":0.675,"w":0.09},{"m":0.68,"w":0.097},{"m":0.685,"w":0.104},{"m":0.69,"w":0.11},{"m":0.695,"w":0.115},{"m":0.7,"w":0.119},{"m":0.705,"w":0.123},{"m":0.71,"w":0.126},{"m":0.715,"w":0.129},{"m":0.72,"w":0.132},{"m":0.73,"w":0.137},{"m":0.74,"w":0.143},{"m":0.75,"w":0.15},{"m":0.755,"w":0.153},{"m":0.76,"w":0.157},{"m":0.765,"w":0.16},{"m":0.77,"w":0.164},{"m":0.775,"w":0.167},{"m":0.78,"w":0.171},{"m":0.785,"w":0.175},{"m":0.79,"w":0.179},{"m":0.795,"w":0.183},{"m":0.8,"w":0.187},{"m":0.81,"w":0.193},{"m":0.82,"w":0.198},{"m":0.83,"w":0.202},{"m":0.84,"w":0.205},{"m":0.85,"w":0.207},{"m":0.86,"w":0.208},{"m":0.87,"w":0.209},{"m":0.88,"w":0.21},{"m":0.89,"w":0.21},{"m":0.9,"w":0.21},
{"m":0.815,"w":0.017},{"m":0.817,"w":0.025},{"m":0.82,"w":0.033},{"m":0.825,"w":0.041},{"m":0.83,"w":0.047},{"m":0.835,"w":0.052},{"m":0.84,"w":0.056},{"m":0.845,"w":0.061},{"m":0.85,"w":0.065},{"m":0.855,"w":0.069},{"m":0.86,"w":0.072},{"m":0.865,"w":0.076},{"m":0.87,"w":0.079},{"m":0.875,"w":0.082},{"m":0.88,"w":0.085},{"m":0.885,"w":0.087},{"m":0.89,"w":0.089},{"m":0.895,"w":0.091},{"m":0.9,"w":0.092},{"m":0.905,"w":0.09},{"m":0.91,"w":0.088},{"m":0.915,"w":0.085},{"m":0.92,"w":0.083},{"m":0.926,"w":0.081},
{"m":0.7025,"w":0.254},{"m":0.71,"w":0.251},{"m":0.715,"w":0.249},{"m":0.72,"w":0.247},{"m":0.725,"w":0.244},{"m":0.73,"w":0.241},{"m":0.735,"w":0.238},{"m":0.74,"w":0.235},{"m":0.745,"w":0.232},{"m":0.75,"w":0.229},{"m":0.755,"w":0.226},{"m":0.76,"w":0.223},{"m":0.765,"w":0.2205},{"m":0.77,"w":0.218},{"m":0.775,"w":0.2155},{"m":0.78,"w":0.213},{"m":0.785,"w":0.211},{"m":0.79,"w":0.209},{"m":0.795,"w":0.207},{"m":0.8,"w":0.205},{"m":0.805,"w":0.203},{"m":0.81,"w":0.201},{"m":0.815,"w":0.1995},{"m":0.82,"w":0.198},{"m":0.825,"w":0.197},{"m":0.83,"w":0.196},{"m":0.835,"w":0.195},{"m":0.84,"w":0.194},{"m":0.845,"w":0.193},{"m":0.85,"w":0.192},{"m":0.855,"w":0.191},{"m":0.86,"w":0.19},{"m":0.865,"w":0.1895},{"m":0.87,"w":0.189},{"m":0.875,"w":0.1885},{"m":0.88,"w":0.188},{"m":0.885,"w":0.1875},{"m":0.89,"w":0.187},{"m":0.895,"w":0.186},{"m":0.9,"w":0.185},{"m":0.905,"w":0.184},{"m":0.91,"w":0.183},{"m":0.915,"w":0.182},{"m":0.92,"w":0.181},{"m":0.926,"w":0.18},
{"m":0.72,"w":0.254},{"m":0.725,"w":0.248},{"m":0.73,"w":0.243},{"m":0.735,"w":0.237},{"m":0.74,"w":0.232},{"m":0.745,"w":0.226},{"m":0.75,"w":0.221},{"m":0.755,"w":0.216},{"m":0.76,"w":0.211},{"m":0.765,"w":0.206},{"m":0.77,"w":0.201},{"m":0.775,"w":0.197},{"m":0.78,"w":0.193},{"m":0.785,"w":0.189},{"m":0.79,"w":0.185},{"m":0.795,"w":0.181},{"m":0.8,"w":0.178},{"m":0.805,"w":0.174},{"m":0.81,"w":0.169},{"m":0.815,"w":0.165},{"m":0.82,"w":0.16},{"m":0.825,"w":0.155},{"m":0.83,"w":0.151},{"m":0.835,"w":0.146},{"m":0.84,"w":0.142},{"m":0.845,"w":0.138},{"m":0.85,"w":0.135},{"m":0.855,"w":0.132},{"m":0.86,"w":0.129},{"m":0.865,"w":0.127},{"m":0.87,"w":0.125},{"m":0.875,"w":0.124},{"m":0.88,"w":0.123},{"m":0.89,"w":0.122},{"m":0.9,"w":0.122},{"m":0.91,"w":0.123},{"m":0.92,"w":0.126},{"m":0.926,"w":0.127},
{"m":0.822,"w":0.254},{"m":0.826,"w":0.252},{"m":0.83,"w":0.249},{"m":0.835,"w":0.245},{"m":0.84,"w":0.242},{"m":0.845,"w":0.24},{"m":0.85,"w":0.238},{"m":0.855,"w":0.236},{"m":0.86,"w":0.235},{"m":0.865,"w":0.234},{"m":0.87,"w":0.234},{"m":0.875,"w":0.234},{"m":0.88,"w":0.235},{"m":0.885,"w":0.236},{"m":0.89,"w":0.238},{"m":0.895,"w":0.24},{"m":0.9,"w":0.242},{"m":0.905,"w":0.245},{"m":0.91,"w":0.248},{"m":0.915,"w":0.251},{"m":0.92,"w":0.254},{"m":0.925,"w":0.255}],
"f":[
{"m":0.55,"w":0},{"m":0.555,"w":0},{"m":0.56,"w":0},{"m":0.565,"w":0},{"m":0.57,"w":0},{"m":0.575,"w":0},{"m":0.58,"w":0},{"m":0.585,"w":0},{"m":0.59,"w":0},{"m":0.595,"w":0},{"m":0.6,"w":0},{"m":0.605,"w":0},{"m":0.61,"w":0},{"m":0.615,"w":0},{"m":0.62,"w":0},{"m":0.625,"w":0},{"m":0.63,"w":0},{"m":0.635,"w":0},{"m":0.64,"w":0},{"m":0.645,"w":0},{"m":0.65,"w":0},{"m":0.655,"w":0},{"m":0.66,"w":0},{"m":0.665,"w":0},{"m":0.67,"w":0},{"m":0.675,"w":0},{"m":0.68,"w":0},{"m":0.685,"w":0},{"m":0.69,"w":0},{"m":0.695,"w":0},{"m":0.7,"w":0},{"m":0.705,"w":0},{"m":0.71,"w":0},{"m":0.715,"w":0},{"m":0.72,"w":0},{"m":0.725,"w":0},{"m":0.73,"w":0},{"m":0.735,"w":0},{"m":0.74,"w":0},{"m":0.745,"w":0},{"m":0.75,"w":0},{"m":0.755,"w":0},{"m":0.76,"w":0},{"m":0.765,"w":0},{"m":0.77,"w":0},{"m":0.775,"w":0},{"m":0.78,"w":0},{"m":0.785,"w":0},{"m":0.79,"w":0},{"m":0.795,"w":0},{"m":0.8,"w":0},{"m":0.805,"w":0},{"m":0.81,"w":0},{"m":0.815,"w":0},{"m":0.82,"w":0},{"m":0.825,"w":0},{"m":0.83,"w":0},{"m":0.835,"w":0},{"m":0.84,"w":0},{"m":0.845,"w":0},{"m":0.85,"w":0},{"m":0.855,"w":0},{"m":0.86,"w":0},{"m":0.865,"w":0},{"m":0.87,"w":0},{"m":0.875,"w":0},{"m":0.88,"w":0},{"m":0.885,"w":0},{"m":0.89,"w":0},{"m":0.895,"w":0},{"m":0.9,"w":0},{"m":0.905,"w":0},{"m":0.91,"w":0},{"m":0.915,"w":0},{"m":0.92,"w":0},{"m":0.926,"w":0},
{"m":0.64,"w":0.007},{"m":0.65,"w":0.006},{"m":0.66,"w":0.005},{"m":0.68,"w":0.005},{"m":0.7,"w":0.004},{"m":0.72,"w":0.004},{"m":0.75,"w":0.003},{"m":0.78,"w":0.003},{"m":0.8,"w":0.002},{"m":0.83,"w":0.002},{"m":0.85,"w":0.001},
{"m":0.55,"w":0.159},{"m":0.555,"w":0.1575},{"m":0.56,"w":0.156},{"m":0.565,"w":0.155},{"m":0.57,"w":0.154},{"m":0.575,"w":0.1525},{"m":0.58,"w":0.151},{"m":0.585,"w":0.1495},{"m":0.59,"w":0.148},{"m":0.595,"w":0.147},{"m":0.6,"w":0.146},{"m":0.605,"w":0.1445},{"m":0.61,"w":0.143},{"m":0.615,"w":0.1415},{"m":0.62,"w":0.14},{"m":0.625,"w":0.139},{"m":0.63,"w":0.138},{"m":0.635,"w":0.1365},{"m":0.64,"w":0.135},{"m":0.645,"w":0.133},{"m":0.65,"w":0.131},{"m":0.655,"w":0.129},{"m":0.66,"w":0.127},{"m":0.665,"w":0.125},{"m":0.67,"w":0.123},{"m":0.675,"w":0.121},{"m":0.68,"w":0.119},{"m":0.685,"w":0.117},{"m":0.69,"w":0.115},{"m":0.695,"w":0.113},{"m":0.7,"w":0.111},{"m":0.705,"w":0.1085},{"m":0.71,"w":0.106},{"m":0.715,"w":0.103},{"m":0.72,"w":0.1},{"m":0.725,"w":0.0975},{"m":0.73,"w":0.095},{"m":0.735,"w":0.092},{"m":0.74,"w":0.089},{"m":0.745,"w":0.086},{"m":0.75,"w":0.082},{"m":0.755,"w":0.08},{"m":0.76,"w":0.077},{"m":0.765,"w":0.073},{"m":0.77,"w":0.069},{"m":0.775,"w":0.065},{"m":0.78,"w":0.061},{"m":0.785,"w":0.057},{"m":0.79,"w":0.053},{"m":0.795,"w":0.045},{"m":0.8,"w":0.037},{"m":0.804,"w":0.03},{"m":0.807,"w":0.022},{"m":0.809,"w":0.015},{"m":0.81,"w":0.008},
{"m":0.55,"w":0.119},{"m":0.552,"w":0.117},{"m":0.555,"w":0.115},{"m":0.557,"w":0.113},{"m":0.56,"w":0.111},{"m":0.562,"w":0.11},{"m":0.565,"w":0.108},{"m":0.567,"w":0.106},{"m":0.57,"w":0.103},{"m":0.575,"w":0.099},{"m":0.58,"w":0.094},{"m":0.585,"w":0.089},{"m":0.59,"w":0.083},{"m":0.595,"w":0.077},{"m":0.6,"w":0.07},{"m":0.605,"w":0.064},{"m":0.61,"w":0.058},{"m":0.615,"w":0.052},{"m":0.62,"w":0.045},{"m":0.625,"w":0.037},{"m":0.63,"w":0.028},{"m":0.634,"w":0.018},{"m":0.637,"w":0.01},{"m":0.64,"w":0.006}]},
"spacing":6,
"resolve":{"scale":{"color":"independent"},"legend":{"color":"independent"}},
"hconcat":[
{"spacing":22,"resolve":{"scale":{"color":"independent"},"legend":{"color":"independent"}},"hconcat":[
{"spacing":15,"bounds":"flush","resolve":{"scale":{"color":"independent"},"legend":{"color":"independent"}},"vconcat":[
{"width":92,"height":84,"layer":[
{"data":{"name":"a"},"mark":{"type":"rect","width":2.2,"height":2},"encoding":{
"x":{"field":"x","type":"quantitative","scale":{"domain":[-12,12]},"axis":{"values":[-10,0,10],"labels":false,"title":null}},
"y":{"field":"y","type":"quantitative","scale":{"domain":[-12,12],"reverse":true},"axis":{"values":[-10,0,10],"title":"y","titleFontStyle":"italic","titlePadding":3,"labelExpr":"replace(datum.label,'−','-')"}},
"color":{"field":"v","type":"quantitative","scale":{"domain":[0,0.06,0.12,0.1875,0.2475,0.315,0.375,0.435,0.495,0.5625,0.6225,0.69,0.75],"range":["#ffffff","#e8eed6","#efd9bd","#eab3b0","#d59fc9","#a98ad4","#6f8fc9","#368b8c","#2d7a52","#2f5c28","#4a4218","#33180f","#000000"]},"legend":{"title":null,"values":[0,0.2,0.4,0.6],"format":"~g"}}}},
{"data":{"values":[{"x":-11,"y":-9.5,"t":"(c)"}]},"mark":{"type":"text","align":"left","fontSize":12,"font":"Liberation Serif","color":"#333333"},"encoding":{"x":{"field":"x","type":"quantitative"},"y":{"field":"y","type":"quantitative"},"text":{"field":"t"}}}]},
{"width":92,"height":84,"data":{"values":[{"x":-12,"x2":12,"y":-12,"y2":0,"p":-2.75},{"x":-12,"x2":0,"y":0,"y2":12,"p":0.75},{"x":0,"x2":12,"y":0.3,"y2":12,"p":0.72}]},"mark":{"type":"rect"},"encoding":{
"x":{"field":"x","type":"quantitative","scale":{"domain":[-12,12]},"axis":{"values":[-10,0,10],"title":"x","titleFontStyle":"italic","labelExpr":"replace(datum.label,'−','-')"}},"x2":{"field":"x2"},
"y":{"field":"y","type":"quantitative","scale":{"domain":[-12,12],"reverse":true},"axis":{"values":[-10,0,10],"title":"y","titleFontStyle":"italic","titlePadding":3,"labelExpr":"replace(datum.label,'−','-')"}},"y2":{"field":"y2"},
"color":{"field":"p","type":"quantitative","scale":{"domain":[-3.1416,-2.639,-2.136,-1.571,-1.068,-0.503,0,0.503,1.005,1.571,2.073,2.639,3.1416],"range":["#ffffff","#e8eed6","#efd9bd","#eab3b0","#d59fc9","#a98ad4","#6f8fc9","#368b8c","#2d7a52","#2f5c28","#4a4218","#33180f","#000000"]},"legend":{"title":null,"values":[-3.1416,0,3.1416],"labelExpr":"datum.value<-1?'-π':datum.value>1?'π':'0'"}}}}]},
{"spacing":15,"bounds":"flush","resolve":{"scale":{"color":"independent"},"legend":{"color":"independent"}},"vconcat":[
{"width":92,"height":84,"data":{"name":"b"},"mark":{"type":"rect","width":2.3,"height":2.1},"encoding":{
"x":{"field":"x","type":"quantitative","scale":{"domain":[-12,12]},"axis":{"values":[-10,0,10],"labels":false,"title":null}},
"y":{"field":"y","type":"quantitative","scale":{"domain":[-12,12],"reverse":true},"axis":{"values":[-10,0,10],"labels":false,"title":null}},
"color":{"field":"v","type":"quantitative","scale":{"domain":[0,0.03,0.06,0.094,0.124,0.158,0.188,0.218,0.248,0.282,0.312,0.346,0.376],"range":["#ffffff","#e8eed6","#efd9bd","#eab3b0","#d59fc9","#a98ad4","#6f8fc9","#368b8c","#2d7a52","#2f5c28","#4a4218","#33180f","#000000"]},"legend":{"title":null,"values":[0,0.1,0.2,0.3],"format":"~g"}}}},
{"width":92,"height":84,"data":{"values":[{"x":-12,"x2":12,"y":-12,"y2":12,"p":1.0}]},"mark":{"type":"rect"},"encoding":{
"x":{"field":"x","type":"quantitative","scale":{"domain":[-12,12]},"axis":{"values":[-10,0,10],"title":"x","titleFontStyle":"italic","labelExpr":"replace(datum.label,'−','-')"}},"x2":{"field":"x2"},
"y":{"field":"y","type":"quantitative","scale":{"domain":[-12,12],"reverse":true},"axis":{"values":[-10,0,10],"labels":false,"title":null}},"y2":{"field":"y2"},
"color":{"field":"p","type":"quantitative","scale":{"domain":[-3.1416,-2.639,-2.136,-1.571,-1.068,-0.503,0,0.503,1.005,1.571,2.073,2.639,3.1416],"range":["#ffffff","#e8eed6","#efd9bd","#eab3b0","#d59fc9","#a98ad4","#6f8fc9","#368b8c","#2d7a52","#2f5c28","#4a4218","#33180f","#000000"]},"legend":{"title":null,"values":[-3.1416,0,3.1416],"labelExpr":"datum.value<-1?'-π':datum.value>1?'π':'0'"}}}}]}]},
{"spacing":15,"bounds":"flush","vconcat":[
{"width":99,"height":84,"data":{"name":"c"},"mark":{"type":"point","filled":false,"color":"#0000ff","size":10,"strokeWidth":1,"opacity":1,"clip":false},"encoding":{
"x":{"field":"m","type":"quantitative","scale":{"domain":[0.55,0.927],"nice":false,"zero":false},"axis":{"values":[0.55,0.67,0.79,0.91],"labels":false,"title":null}},
"y":{"field":"w","type":"quantitative","scale":{"domain":[0,0.256],"nice":false},"axis":{"values":[0,0.1,0.2],"format":"~g","title":"ℜ (ω)","titlePadding":8}}}},
{"width":99,"height":84,"data":{"name":"f"},"mark":{"type":"point","filled":false,"color":"#0000ff","size":10,"strokeWidth":1,"opacity":1,"clip":false},"encoding":{
"x":{"field":"m","type":"quantitative","scale":{"domain":[0.55,0.927],"nice":false,"zero":false},"axis":{"values":[0.55,0.67,0.79,0.91],"title":"μ₊","format":".2f"}},
"y":{"field":"w","type":"quantitative","scale":{"domain":[0,0.161],"nice":false},"axis":{"values":[0,0.05,0.1,0.15],"format":"~g","title":"ℑ (ω)","titlePadding":8}}}}]}
]}
